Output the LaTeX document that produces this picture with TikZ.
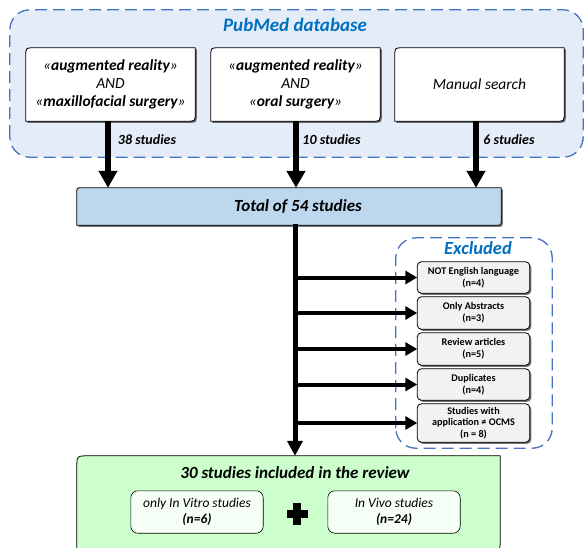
\documentclass[tikz,border=0pt]{standalone}
\usepackage{fontspec}
\setmainfont{Carlito}
\usetikzlibrary{arrows.meta,calc,shadows}
\pgfdeclarelayer{bgbg}
\pgfdeclarelayer{bg}
\pgfsetlayers{bgbg,bg,main}
\definecolor{dashblue}{RGB}{68,114,196}
\definecolor{titleblue}{RGB}{0,112,192}
\definecolor{pubfill}{RGB}{228,236,247}
\definecolor{totalfill}{RGB}{189,215,238}
\definecolor{exfill}{RGB}{242,242,242}
\definecolor{greenfill}{RGB}{204,255,204}
\definecolor{innergreen}{RGB}{246,255,246}
% diagonal rounded shape drawn behind a named node: [options]{name}{radius}
\newcommand\dshape[3][]{%
  \begin{pgfonlayer}{bg}
  \path[#1] (#2.south west) -- ($(#2.north west)+(0,#3)$) .. controls (#2.north west) .. ($(#2.north west)+(#3,0)$)
    -- (#2.north east) -- ($(#2.south east)+(0,-#3)$) .. controls (#2.south east) .. ($(#2.south east)+(-#3,0)$) -- cycle;
  \end{pgfonlayer}}
\newcommand\rshape[3][]{%
  \begin{pgfonlayer}{bg}
  \path[#1, rounded corners=#3] (#2.south west) rectangle (#2.north east);
  \end{pgfonlayer}}
\begin{document}
\begin{tikzpicture}[x=1pt,y=-1pt,
  area/.style={inner sep=0pt, align=center},
  shbox/.style={drop shadow={shadow xshift=1.6pt,shadow yshift=-1.6pt,opacity=.55,fill=black}, draw=black, line width=0.8pt},
  dashframe/.style={draw=dashblue, line width=1.3pt, dash pattern=on 12pt off 6pt},
  bigarrow/.style={line width=6pt, -{Triangle[width=18pt,length=17pt]}},
  smallarrow/.style={line width=4pt, -{Triangle[width=13pt,length=12pt]}},
  trunk/.style={line width=5pt},
  qfont/.style={font=\fontsize{15.5}{18}\selectfont\itshape},
  cnt/.style={font=\fontsize{14}{16}\selectfont\bfseries\itshape},
  exfont/.style={font=\fontsize{10.2}{11.8}\selectfont\bfseries},
  ingreen/.style={font=\fontsize{13.5}{15.5}\selectfont\itshape}]
\useasboundingbox (0,0) rectangle (584,547);

% frames
\node[area, minimum width=573, minimum height=147] (pub) at (296.5,83.5) {};
\node[area, font=\fontsize{19}{22}\selectfont\bfseries\itshape, text=titleblue] (pubt) at (295,25) {PubMed database};
\begin{pgfonlayer}{bgbg}
  \path[dashframe, fill=pubfill, rounded corners=20] (pub.south west) rectangle (pub.north east);
\end{pgfonlayer}

% query boxes
\node[area, qfont, minimum width=169, minimum height=73] (b1) at (110.5,84.5)
  {«\textbf{augmented reality}»\\AND\\«\textbf{maxillofacial surgery}»};
\node[area, qfont, minimum width=169, minimum height=73] (b2) at (295.5,84.5)
  {«\textbf{augmented reality}»\\AND\\«\textbf{oral surgery}»};
\node[area, qfont, minimum width=169, minimum height=73] (b3) at (479.5,84.5)
  {Manual search};
\dshape[shbox, fill=white]{b1}{8}
\dshape[shbox, fill=white]{b2}{8}
\dshape[shbox, fill=white]{b3}{8}

% total
\node[area, minimum width=424, minimum height=37] (total) at (289,206.5) {};
\node[area, font=\fontsize{17}{20}\selectfont\bfseries\itshape] (totalt) at (298,206.5) {Total of 54 studies};
\dshape[shbox, fill=totalfill]{total}{5}

% arrows from queries
\draw[bigarrow] ([xshift=-2.5pt]b1.south) -- ([xshift=-2.5pt]b1.south |- total.north);
\draw[bigarrow] ([xshift=0.5pt]b2.south) -- ([xshift=0.5pt]b2.south |- total.north);
\draw[bigarrow] ([xshift=-3.5pt]b3.south) -- ([xshift=-3.5pt]b3.south |- total.north);
\node[area, cnt] (l1) at (147,140) {38 studies};
\node[area, cnt] (l2) at (331.5,140) {10 studies};
\node[area, cnt] (l3) at (509,140) {6 studies};

% excluded
\node[area, minimum width=156, minimum height=210] (exf) at (474,343) {};
\node[area, font=\fontsize{18.5}{21}\selectfont\bfseries\itshape, text=titleblue] (ext) at (478,248) {Excluded};
\begin{pgfonlayer}{bgbg}
  \path[dashframe, fill=white, rounded corners=20] (exf.south west) rectangle (exf.north east);
\end{pgfonlayer}
\node[area, exfont, minimum width=112, minimum height=31] (e1) at (473.5,277.5) {NOT English language\\(n=4)};
\node[area, exfont, minimum width=112, minimum height=32] (e2) at (473.5,313) {Only Abstracts\\(n=3)};
\node[area, exfont, minimum width=112, minimum height=32] (e3) at (473.5,349) {Review articles\\(n=5)};
\node[area, exfont, minimum width=112, minimum height=31] (e4) at (473.5,384.5) {Duplicates\\(n=4)};
\node[area, exfont, minimum width=112, minimum height=38] (e5) at (473.5,423) {Studies with\\application ≠ OCMS\\(n = 8)};
\foreach \e in {e1,e2,e3,e4,e5}{\rshape[shbox, fill=exfill]{\e}{4}}

% included
\node[area, minimum width=423, minimum height=95] (green) at (288.5,503.5) {};
\node[area, font=\fontsize{17}{20}\selectfont\bfseries\itshape] (greent) at (295,473) {30 studies included in the review};
\dshape[draw=black, line width=0.8pt, fill=greenfill]{green}{12}
\node[area, ingreen, minimum width=132, minimum height=42] (vitro) at (197,512) {only In Vitro studies\\\textbf{(n=6)}};
\node[area, ingreen, minimum width=132, minimum height=42] (vivo) at (394,512) {In Vivo studies\\\textbf{(n=24)}};
\rshape[draw=black, line width=0.6pt, fill=innergreen]{vitro}{7}
\rshape[draw=black, line width=0.6pt, fill=innergreen]{vivo}{7}
\node[area, minimum size=21] (plus) at (297,514) {};
\fill ($(plus.center)+(-10.5,-3.6)$) rectangle ($(plus.center)+(10.5,3.6)$);
\fill ($(plus.center)+(-3.6,-11)$) rectangle ($(plus.center)+(3.6,11)$);

% trunk and exclusion arrows
\coordinate (tk) at (295,224);
\draw[trunk, -{Triangle[width=15pt,length=15pt]}] (tk) -- (tk |- green.north);
\foreach \e in {e1,e2,e3,e4,e5}{
  \draw[smallarrow] ([xshift=-2.5pt]tk |- \e.west) -- (\e.west);
}
\end{tikzpicture}
\end{document}
